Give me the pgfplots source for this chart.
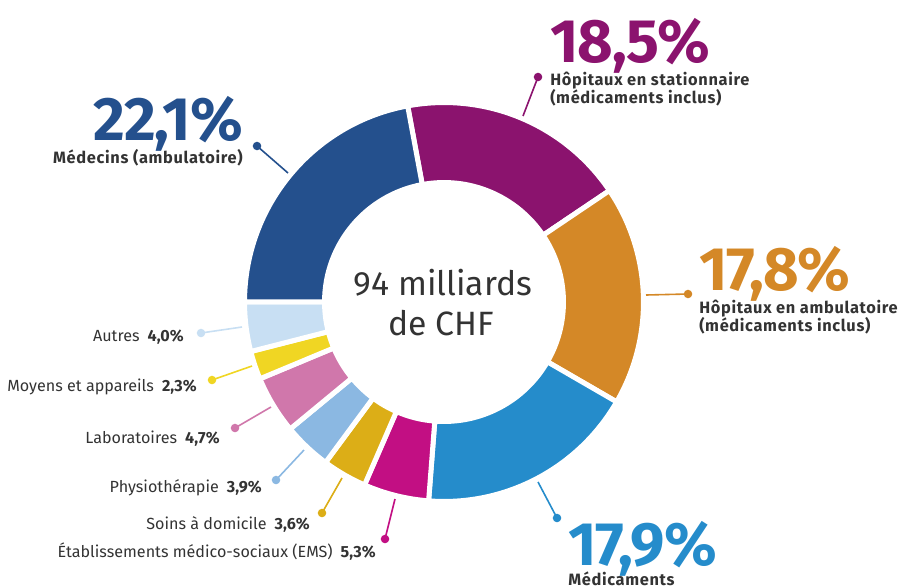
\documentclass[border=0pt]{standalone}
\usepackage{pgfplots}
\usepackage{pgfplotstable}
\pgfplotsset{compat=1.18}
\usepackage{fontspec}
\setmainfont{Fira Sans}
\definecolor{cStat}{HTML}{8B136E}
\definecolor{cAmb}{HTML}{D48827}
\definecolor{cMedic}{HTML}{258CCB}
\definecolor{cEMS}{HTML}{C20F83}
\definecolor{cSoins}{HTML}{DCAE17}
\definecolor{cPhys}{HTML}{8BB8E2}
\definecolor{cLabo}{HTML}{D077AB}
\definecolor{cMoy}{HTML}{F0D623}
\definecolor{cAut}{HTML}{C8DFF3}
\definecolor{cMed}{HTML}{24508D}
\definecolor{txt}{HTML}{333333}
\newcommand\bigfont{\fontsize{46}{50}\selectfont\bfseries\addfontfeatures{LetterSpace=-1.5}}
\newcommand\boldlab{\fontsize{12.3}{14}\selectfont\bfseries\addfontfeatures{LetterSpace=4}}
\newcommand\smallfont{\fontsize{12.1}{14}\selectfont}
\pgfplotstableread{
label value color
Stationnaire 18.5 cStat
Ambulatoire 17.8 cAmb
Medicaments 17.9 cMedic
EMS 5.3 cEMS
Soins 3.6 cSoins
Physio 3.9 cPhys
Labo 4.7 cLabo
Moyens 2.3 cMoy
Autres 4.0 cAut
Medecins 22.1 cMed
}\donutdata
\begin{document}
\begin{tikzpicture}
\def\cum{0}
\pgfplotsforeachungrouped \i in {0,...,9} {%
  \pgfplotstablegetelem{\i}{value}\of\donutdata
  \let\val\pgfplotsretval
  \pgfmathsetmacro\a{100.5 - \cum/100.1*360}%
  \pgfmathsetmacro\cumnew{\cum + \val}%
  \pgfmathsetmacro\b{100.5 - \cumnew/100.1*360}%
  \expandafter\xdef\csname angA\i\endcsname{\a}%
  \expandafter\xdef\csname angB\i\endcsname{\b}%
  \xdef\cum{\cumnew}%
  \pgfplotstablegetelem{\i}{color}\of\donutdata
  \expandafter\xdef\csname col\i\endcsname{\pgfplotsretval}%
}
\def\Ro{149.6pt}
\def\Ri{89.6pt}
\begin{axis}[x=0.75pt, y=0.75pt, xmin=0, xmax=898, ymin=0, ymax=587,
  hide axis, clip=false]
\coordinate (C) at (axis cs:444,285);
\pgfplotsinvokeforeach{0,...,9}{%
  \edef\temp{\noexpand\filldraw[fill=\csname col#1\endcsname, draw=white, line width=3.75pt, line join=miter]
   ([shift={(\csname angA#1\endcsname:\Ro)}]C) arc[start angle=\csname angA#1\endcsname, end angle=\csname angB#1\endcsname, radius=\Ro]
   -- ([shift={(\csname angB#1\endcsname:\Ri)}]C) arc[start angle=\csname angB#1\endcsname, end angle=\csname angA#1\endcsname, radius=\Ri] -- cycle;}%
  \temp
}
% center text
\node[anchor=base, font=\fontsize{25.3}{30}\selectfont, text=txt] at (axis cs:443,292) {94 milliards};
\node[anchor=base, font=\fontsize{25.3}{30}\selectfont, text=txt] at (axis cs:441,252) {de CHF};
% big labels
\node[anchor=base east, inner sep=0pt, font=\bigfont, text=cMed] at (axis cs:243,447) {22,1\%};
\node[anchor=base east, inner sep=0pt, font=\boldlab, text=txt] at (axis cs:243,424) {Médecins (ambulatoire)};
\node[anchor=base west, inner sep=0pt, font=\bigfont, text=cStat] at (axis cs:550,524) {18,5\%};
\node[anchor=base west, inner sep=0pt, font=\boldlab, text=txt] at (axis cs:550,502) {Hôpitaux en stationnaire};
\node[anchor=base west, inner sep=0pt, font=\boldlab, text=txt] at (axis cs:550,484) {(médicaments inclus)};
\node[anchor=base west, inner sep=0pt, font=\bigfont, text=cAmb] at (axis cs:699,297) {17,8\%};
\node[anchor=base west, inner sep=0pt, font=\boldlab, text=txt] at (axis cs:699,274) {Hôpitaux en ambulatoire};
\node[anchor=base west, inner sep=0pt, font=\boldlab, text=txt] at (axis cs:699,256) {(médicaments inclus)};
\node[anchor=base west, inner sep=0pt, font=\bigfont, text=cMedic] at (axis cs:568,22) {17,9\%};
\node[anchor=base west, inner sep=0pt, font=\boldlab, text=txt] at (axis cs:568,1.5) {Médicaments};
% small labels
\tikzset{sl/.style={anchor=base east, inner sep=0pt, font=\smallfont, text=txt}}
\node[sl] at (axis cs:184,246) {Autres\enspace\textbf{4,0\%}};
\node[sl] at (axis cs:197,196) {Moyens et appareils\enspace\textbf{2,3\%}};
\node[sl] at (axis cs:220,144) {Laboratoires\enspace\textbf{4,7\%}};
\node[sl] at (axis cs:262,95) {Physiothérapie\enspace\textbf{3,9\%}};
\node[sl] at (axis cs:310,58) {Soins à domicile\enspace\textbf{3,6\%}};
\node[sl] at (axis cs:376,30) {Établissements médico-sociaux (EMS)\enspace\textbf{5,3\%}};
% leader lines
\tikzset{ld/.style={line width=1.2pt}}
\draw[ld, cMed] (axis cs:257,441) -- (axis cs:288,414); \fill[cMed] (axis cs:257,441) circle[radius=3.2pt];
\draw[ld, cStat] (axis cs:538,510) -- (axis cs:523,471); \fill[cStat] (axis cs:538,510) circle[radius=3.2pt];
\draw[ld, cAmb] (axis cs:688,293) -- (axis cs:646,292); \fill[cAmb] (axis cs:688,293) circle[radius=3.2pt];
\draw[ld, cMedic] (axis cs:557,69) -- (axis cs:538,105); \fill[cMedic] (axis cs:557,69) circle[radius=3.2pt];
\draw[ld, cAut] (axis cs:201,254) -- (axis cs:242,260); \fill[cAut] (axis cs:201,254) circle[radius=3.2pt];
\draw[ld, cMoy] (axis cs:212,207) -- (axis cs:252,221); \fill[cMoy] (axis cs:212,207) circle[radius=3.2pt];
\draw[ld, cLabo] (axis cs:235,159) -- (axis cs:271,180); \fill[cLabo] (axis cs:235,159) circle[radius=3.2pt];
\draw[ld, cPhys] (axis cs:276,107) -- (axis cs:304,137); \fill[cPhys] (axis cs:276,107) circle[radius=3.2pt];
\draw[ld, cSoins] (axis cs:322,74) -- (axis cs:342,109); \fill[cSoins] (axis cs:322,74) circle[radius=3.2pt];
\draw[ld, cEMS] (axis cs:385,48) -- (axis cs:395,88); \fill[cEMS] (axis cs:385,48) circle[radius=3.2pt];
\end{axis}
\pgfresetboundingbox
\useasboundingbox (0,0) rectangle (673.5pt,440.25pt);
\end{tikzpicture}
\end{document}
